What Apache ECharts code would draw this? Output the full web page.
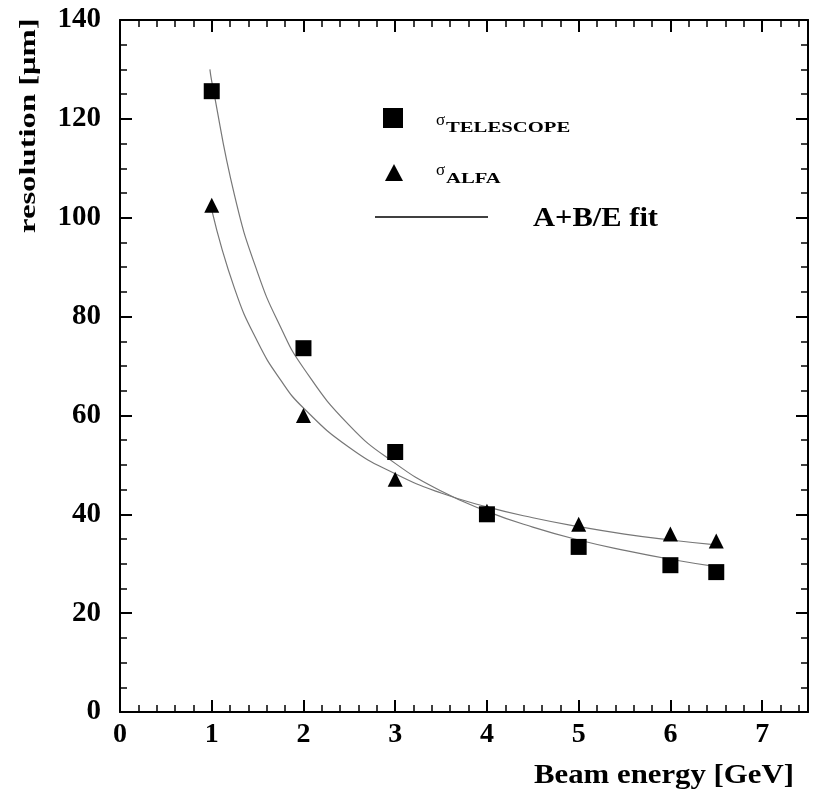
<!DOCTYPE html>
<html>
<head>
<meta charset="utf-8">
<script src="https://cdn.jsdelivr.net/npm/echarts@6/dist/echarts.min.js"></script>
<style>
  html, body { margin: 0; padding: 0; background: #fff; }
  #chart { width: 817px; height: 792px; }
</style>
</head>
<body>
<div id="chart"></div>
<script>
// measured points
const energies = [1, 2, 3, 4, 5, 6, 6.5]
const telescopeRes = [125.6, 73.6, 52.6, 40.0, 33.4, 29.7, 28.3]
const alfaRes = [102.5, 60.0, 47.1, 40.6, 38.0, 36.0, 34.6]

// A+B/E fit curves
const fitEnergies = [0.98, 1, 1.25, 1.5, 1.75, 2, 2.5, 3, 3.5, 4, 4.5, 5, 5.5, 6, 6.5]
const telescopeFit = [130, 127.6, 104.4, 88.9, 77.9, 69.6, 58.0, 50.3, 44.7, 40.6, 37.4, 34.8, 32.7, 30.9, 29.4]
const alfaFit = [null, 101.6, 85.6, 74.9, 67.2, 61.5, 53.5, 48.2, 44.3, 41.5, 39.3, 37.5, 36.0, 34.8, 33.8]

const xTicks = [0, 1, 2, 3, 4, 5, 6, 7]
const yTicks = [0, 20, 40, 60, 80, 100, 120, 140]

const serif = '"Liberation Serif", "DejaVu Serif", serif'
const ink = '#000'

const pairs = (xs, ys) => xs.map((x, i) => [x, ys[i]]).filter(p => p[1] !== null)

const chart = echarts.init(document.getElementById('chart'))

const baseX = {
  type: 'value',
  min: 0,
  max: 7.5,
  interval: 1,
  axisLine: { onZero: false, lineStyle: { color: ink, width: 2 } },
  axisTick: { inside: true, length: 12, lineStyle: { color: ink, width: 2 } },
  minorTick: { show: true, splitNumber: 5, length: 7, lineStyle: { color: ink, width: 1.5 } },
  splitLine: { show: false },
  axisLabel: {
    margin: 9,
    color: ink,
    fontFamily: serif,
    fontWeight: 'bold',
    fontSize: 28,
    formatter: v => (xTicks.includes(v) ? String(v) : '')
  }
}
const baseY = {
  type: 'value',
  min: 0,
  max: 140,
  interval: 20,
  axisLine: { onZero: false, lineStyle: { color: ink, width: 2 } },
  axisTick: { inside: true, length: 12, lineStyle: { color: ink, width: 2 } },
  minorTick: { show: true, splitNumber: 4, length: 7, lineStyle: { color: ink, width: 1.5 } },
  splitLine: { show: false },
  axisLabel: {
    margin: 19,
    color: ink,
    fontFamily: serif,
    fontWeight: 'bold',
    fontSize: 29,
    formatter: v => (yTicks.includes(v) ? String(v) : '')
  }
}

const option = {
  animation: false,
  backgroundColor: '#fff',
  grid: { left: 120, right: 9, top: 20, bottom: 80, containLabel: false },
  xAxis: [
    Object.assign({}, baseX, { position: 'bottom' }),
    Object.assign({}, baseX, { position: 'top', axisLabel: { show: false } })
  ],
  yAxis: [
    Object.assign({}, baseY, { position: 'left' }),
    Object.assign({}, baseY, { position: 'right', axisLabel: { show: false } })
  ],
  graphic: [
    {
      type: 'text',
      x: 41,
      y: 233,
      rotation: Math.PI / 2,
      scaleX: 1.36,
      style: {
        text: 'resolution [μm]',
        fontFamily: serif,
        fontWeight: 'bold',
        fontSize: 24,
        fill: ink,
        align: 'left',
        verticalAlign: 'bottom'
      }
    },
    {
      type: 'text',
      x: 794,
      y: 790,
      scaleX: 1.1,
      style: {
        text: 'Beam energy [GeV]',
        fontFamily: serif,
        fontWeight: 'bold',
        fontSize: 28,
        fill: ink,
        align: 'right',
        verticalAlign: 'bottom'
      }
    },
    // legend
    { type: 'rect', shape: { x: 383, y: 108, width: 20, height: 20 }, style: { fill: ink } },
    { type: 'text', x: 436, y: 112, style: { text: 'σ', fontFamily: serif, fontSize: 17, fill: ink } },
    { type: 'text', x: 446, y: 121, scaleX: 1.38, style: { text: 'TELESCOPE', fontFamily: serif, fontWeight: 'bold', fontSize: 15, fill: ink } },
    { type: 'polygon', shape: { points: [[394, 164], [385, 181], [403, 181]] }, style: { fill: ink } },
    { type: 'text', x: 436, y: 162, style: { text: 'σ', fontFamily: serif, fontSize: 17, fill: ink } },
    { type: 'text', x: 446, y: 172, scaleX: 1.38, style: { text: 'ALFA', fontFamily: serif, fontWeight: 'bold', fontSize: 15, fill: ink } },
    { type: 'line', shape: { x1: 375, y1: 217, x2: 488, y2: 217 }, style: { stroke: ink, lineWidth: 1.5 } },
    { type: 'text', x: 533, y: 206, scaleX: 1.13, style: { text: 'A+B/E fit', fontFamily: serif, fontWeight: 'bold', fontSize: 27, fill: ink } }
  ],
  series: [
    {
      name: 'telescope fit',
      type: 'line',
      smooth: true,
      symbol: 'none',
      data: pairs(fitEnergies, telescopeFit),
      lineStyle: { color: '#777', width: 1.2 },
      z: 1
    },
    {
      name: 'alfa fit',
      type: 'line',
      smooth: true,
      symbol: 'none',
      data: pairs(fitEnergies, alfaFit),
      lineStyle: { color: '#777', width: 1.2 },
      z: 1
    },
    {
      name: 'σTELESCOPE',
      type: 'scatter',
      symbol: 'rect',
      symbolSize: 16,
      itemStyle: { color: ink, opacity: 1 },
      data: pairs(energies, telescopeRes),
      z: 3
    },
    {
      name: 'σALFA',
      type: 'scatter',
      symbol: 'triangle',
      symbolSize: 15,
      itemStyle: { color: ink, opacity: 1 },
      data: pairs(energies, alfaRes),
      z: 3
    }
  ]
}

chart.setOption(option)
</script>
</body>
</html>
